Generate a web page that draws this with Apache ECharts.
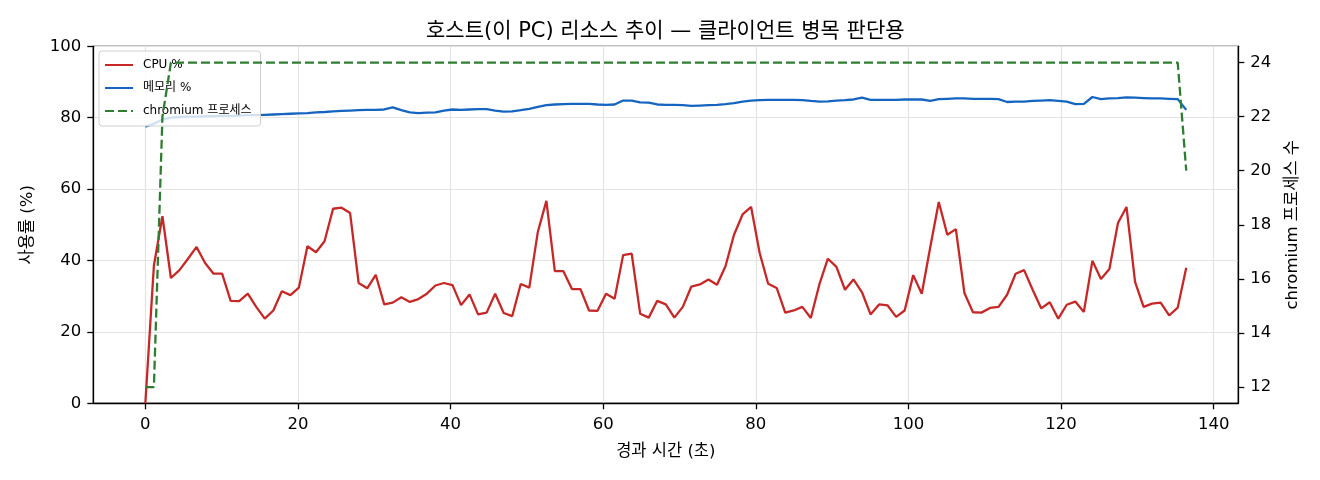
<!DOCTYPE html>
<html>
<head>
<meta charset="utf-8">
<script src="https://cdn.jsdelivr.net/npm/echarts@6/dist/echarts.min.js"></script>
<style>html,body{margin:0;padding:0;background:#fff;}#c{width:1320px;height:480px;}</style>
</head>
<body>
<div id="c"></div>
<script>
const times = [0,1.12,2.24,3.35,4.47,5.59,6.71,7.83,8.94,10.06,
11.18,12.30,13.42,14.53,15.65,16.77,17.89,19.01,20.12,21.24,
22.36,23.48,24.60,25.71,26.83,27.95,29.07,30.19,31.30,32.42,
33.54,34.66,35.78,36.89,38.01,39.13,40.25,41.37,42.48,43.60,
44.72,45.84,46.96,48.07,49.19,50.31,51.43,52.55,53.66,54.78,
55.90,57.02,58.14,59.25,60.37,61.49,62.61,63.73,64.84,65.96,
67.08,68.20,69.32,70.43,71.55,72.67,73.79,74.91,76.02,77.14,
78.26,79.38,80.50,81.61,82.73,83.85,84.97,86.09,87.20,88.32,
89.44,90.56,91.68,92.79,93.91,95.03,96.15,97.27,98.38,99.50,
100.62,101.74,102.86,103.97,105.09,106.21,107.33,108.45,109.56,110.68,
111.80,112.92,114.04,115.15,116.27,117.39,118.51,119.63,120.74,121.86,
122.98,124.10,125.22,126.33,127.45,128.57,129.69,130.81,131.92,133.04,
134.16,135.28,136.40];

const cpu = [0,38.6,52.4,35.1,37.3,40.5,43.8,39.3,36.3,36.3,
28.7,28.6,30.7,27.0,23.7,26.0,31.4,30.3,32.4,44.0,
42.3,45.4,54.5,54.8,53.3,33.7,32.2,36.0,27.7,28.2,
29.7,28.4,29.2,30.7,33.0,33.7,33.1,27.5,30.5,24.9,
25.4,30.7,25.3,24.4,33.4,32.4,48.0,56.7,37.0,37.0,
32.0,32.0,26.0,25.9,30.7,29.3,41.5,41.9,25.1,24.0,
28.7,27.7,24.0,27.0,32.7,33.3,34.7,33.2,38.4,47.2,
52.9,55.0,42.1,33.5,32.3,25.4,26.0,27.0,23.9,33.3,
40.5,38.2,31.8,34.7,31.1,24.9,27.7,27.4,24.2,26.0,
35.9,30.7,43.8,56.4,47.2,48.8,30.9,25.5,25.4,26.7,
27.0,30.4,36.3,37.3,31.8,26.6,28.3,23.7,27.6,28.5,
25.6,39.9,34.8,37.6,50.5,55.0,34.0,27.0,27.9,28.2,
24.6,26.8,38.0];

const mem = [77.5,78.3,79.5,80.0,80.2,80.3,80.3,80.4,80.4,80.5,
80.5,80.6,80.7,80.7,80.8,80.9,81.0,81.1,81.2,81.3,
81.5,81.6,81.8,81.9,82.0,82.1,82.2,82.2,82.3,82.9,
82.1,81.5,81.3,81.4,81.5,82.0,82.3,82.2,82.3,82.4,
82.4,82.0,81.7,81.8,82.1,82.5,83.0,83.5,83.7,83.8,
83.9,83.9,83.9,83.7,83.6,83.7,84.8,84.8,84.3,84.2,
83.7,83.6,83.6,83.5,83.3,83.4,83.5,83.6,83.8,84.1,
84.5,84.8,84.9,85.0,85.0,85.0,85.0,84.9,84.7,84.5,
84.6,84.8,84.9,85.1,85.6,85.0,85.0,85.0,85.0,85.1,
85.1,85.1,84.7,85.2,85.3,85.4,85.4,85.3,85.3,85.3,
85.2,84.4,84.5,84.5,84.7,84.8,84.9,84.7,84.5,83.8,
83.9,85.8,85.2,85.4,85.5,85.7,85.6,85.5,85.4,85.4,
85.3,85.2,82.2];

const chromium = [12,12,22,24,24,24,24,24,24,24,
24,24,24,24,24,24,24,24,24,24,
24,24,24,24,24,24,24,24,24,24,
24,24,24,24,24,24,24,24,24,24,
24,24,24,24,24,24,24,24,24,24,
24,24,24,24,24,24,24,24,24,24,
24,24,24,24,24,24,24,24,24,24,
24,24,24,24,24,24,24,24,24,24,
24,24,24,24,24,24,24,24,24,24,
24,24,24,24,24,24,24,24,24,24,
24,24,24,24,24,24,24,24,24,24,
24,24,24,24,24,24,24,24,24,24,
24,24,20];

const xTicks = [0,20,40,60,80,100,120,140];
const yLeftTicks = [0,20,40,60,80,100];
const yRightTicks = [12,14,16,18,20,22,24];

const seriesNames = ['CPU %', '메모리 %', 'chromium 프로세스'];
const titleText = '호스트(이 PC) 리소스 추이 — 클라이언트 병목 판단용';
const xName = '경과 시간 (초)';
const yLeftName = '사용률 (%)';
const yRightName = 'chromium 프로세스 수';

const FONT = '"DejaVu Sans", "Noto Sans CJK KR", sans-serif';
const pair = (a) => a.map((v, i) => [times[i], v]);

const chart = echarts.init(document.getElementById('c'), null, {renderer: 'canvas'});
const axisLine = {show: true, onZero: false, lineStyle: {color: '#000', width: 1.3}};
const axisTick = {show: true, length: 6, inside: false, lineStyle: {color: '#000', width: 1.3}};
const grid = {show: true, lineStyle: {color: '#e3e3e3', width: 1.2}};

chart.setOption({
  animation: false,
  backgroundColor: '#fff',
  textStyle: {fontFamily: FONT},
  title: {
    text: titleText, left: 421, top: 16,
    textStyle: {fontFamily: FONT, fontSize: 21, fontWeight: 'normal', color: '#000'}
  },
  legend: {
    orient: 'vertical', left: 99, top: 51,
    itemWidth: 28, itemHeight: 14, itemGap: 11,
    padding: [8, 9, 9, 5],
    backgroundColor: 'rgba(255,255,255,0.8)',
    borderColor: '#d0d0d0', borderWidth: 1, borderRadius: 3,
    itemStyle: {opacity: 0},
    textStyle: {fontFamily: FONT, fontSize: 12, color: '#000', padding: [0, 0, 0, 5]},
    data: seriesNames
  },
  grid: {left: 93.3, right: 81.7, top: 46.3, bottom: 76.7, show: true, borderColor: '#000', borderWidth: 1.3, backgroundColor: 'transparent'},
  xAxis: {
    type: 'value', min: -6.82, max: 143.22, splitNumber: 7,
    name: xName, nameLocation: 'middle', nameGap: 40,
    nameTextStyle: {fontFamily: FONT, fontSize: 16.5, color: '#000'},
    axisLine: axisLine,
    axisTick: Object.assign({customValues: xTicks}, axisTick),
    axisLabel: {customValues: xTicks, margin: 13, fontFamily: FONT, fontSize: 16.5, color: '#000',
      formatter: v => xTicks.includes(v) ? String(v) : ''},
    splitLine: grid
  },
  yAxis: [{
    type: 'value', min: 0, max: 100, interval: 20, position: 'left',
    name: yLeftName, nameLocation: 'middle', nameGap: 57, nameRotate: 90,
    nameTextStyle: {fontFamily: FONT, fontSize: 16.5, color: '#000'},
    axisLine: axisLine, axisTick: axisTick,
    axisLabel: {margin: 12, fontFamily: FONT, fontSize: 16.5, color: '#000',
      formatter: v => yLeftTicks.includes(v) ? String(v) : ''},
    splitLine: grid
  }, {
    type: 'value', min: 11.4, max: 24.6, splitNumber: 6, position: 'right', alignTicks: false,
    name: yRightName, nameLocation: 'middle', nameGap: 46, nameRotate: 90,
    nameTextStyle: {fontFamily: FONT, fontSize: 16.5, color: '#000'},
    axisLine: axisLine,
    axisTick: Object.assign({customValues: yRightTicks}, axisTick),
    axisLabel: {customValues: yRightTicks, margin: 12, fontFamily: FONT, fontSize: 16.5, color: '#000',
      formatter: v => yRightTicks.includes(v) ? String(v) : ''},
    splitLine: {show: false}
  }],
  series: [{
    name: seriesNames[0], type: 'line', yAxisIndex: 0, data: pair(cpu),
    symbol: 'none', color: '#c62828', lineStyle: {color: '#c62828', width: 2.3}, z: 2
  }, {
    name: seriesNames[1], type: 'line', yAxisIndex: 0, data: pair(mem),
    symbol: 'none', color: '#1565c0', lineStyle: {color: '#1565c0', width: 2.3}, z: 2
  }, {
    name: seriesNames[2], type: 'line', yAxisIndex: 1, data: pair(chromium),
    symbol: 'none', color: '#2e7d32', lineStyle: {color: '#2e7d32', width: 2.3, type: [9, 4]}, z: 5
  }]
});
</script>
</body>
</html>
